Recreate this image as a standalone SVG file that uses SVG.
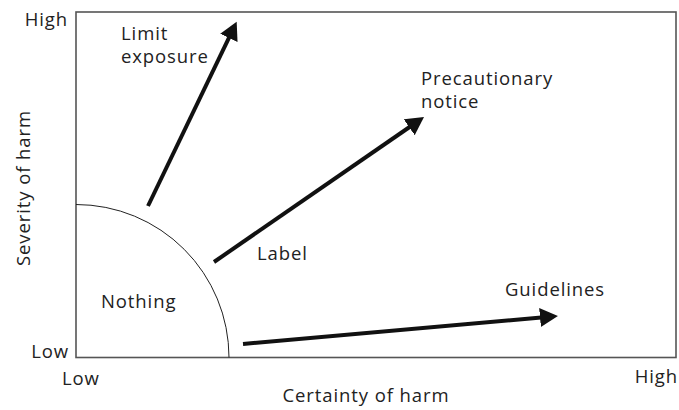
<svg xmlns="http://www.w3.org/2000/svg" width="679" height="410" viewBox="0 0 679 410">
<style>
text{font-family:"Open Sans","Liberation Sans",sans-serif;font-size:18.5px;letter-spacing:0.9px;fill:#222}
.frame{fill:none;stroke:#555;stroke-width:1.6}
.arc{fill:none;stroke:#222;stroke-width:1}
.arr{fill:none;stroke:#111;stroke-width:4}
</style>
<defs>
<marker id="ah" markerWidth="6" markerHeight="6" refX="1" refY="2.4" orient="auto" markerUnits="strokeWidth">
<path d="M0,0 L4.5,2.4 L0,4.8 Z" fill="#111"/>
</marker>
</defs>
<g id="axes">
<rect class="frame" x="76" y="12" width="600" height="345.5"/>
<text x="68" y="26" text-anchor="end">High</text>
<text x="69" y="358" text-anchor="end">Low</text>
<text x="62" y="385">Low</text>
<text x="678" y="383" text-anchor="end">High</text>
<text x="366" y="402" text-anchor="middle">Certainty of harm</text>
<text transform="translate(30,188) rotate(-90)" text-anchor="middle">Severity of harm</text>
</g>
<g id="nothing">
<path class="arc" d="M76,204.5 A153,153 0 0 1 229,357.5"/>
<text x="101" y="308">Nothing</text>
</g>
<g id="limit-exposure">
<text x="121" y="40">Limit</text>
<text x="121" y="63">exposure</text>
</g>
<g id="precautionary-notice">
<text x="421" y="85">Precautionary</text>
<text x="421" y="108">notice</text>
</g>
<g id="label">
<text x="257" y="260">Label</text>
</g>
<g id="guidelines">
<text x="505" y="296">Guidelines</text>
</g>
<g id="connectors">
<line class="arr" x1="148" y1="206" x2="230.6" y2="34.3" marker-end="url(#ah)"/>
<line class="arr" x1="214" y1="262" x2="412.5" y2="125" marker-end="url(#ah)"/>
<line class="arr" x1="243" y1="344" x2="544" y2="317.2" marker-end="url(#ah)"/>
</g>
</svg>
